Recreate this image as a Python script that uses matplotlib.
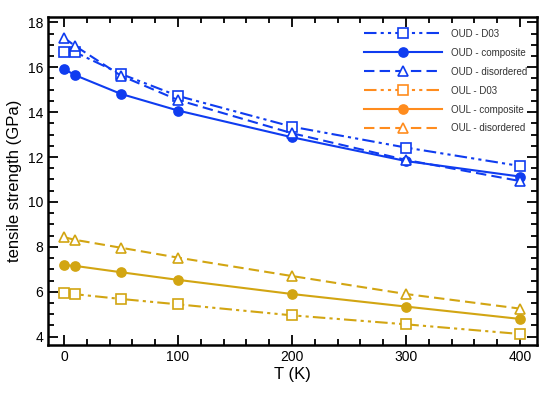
import matplotlib
matplotlib.use("Agg")
import matplotlib.pyplot as plt
from matplotlib.lines import Line2D
from matplotlib.ticker import MultipleLocator

T = [0, 10, 50, 100, 200, 300, 400]
oud_d03 = [16.69, 16.66, 15.70, 14.72, 13.35, 12.42, 11.60]
oud_comp = [15.92, 15.64, 14.81, 14.07, 12.88, 11.82, 11.13]
oud_dis = [17.31, 16.94, 15.62, 14.54, 13.06, 11.87, 10.93]
oul_d03 = [5.93, 5.89, 5.68, 5.44, 4.95, 4.55, 4.12]
oul_comp = [7.19, 7.15, 6.87, 6.53, 5.90, 5.34, 4.79]
oul_dis = [8.43, 8.31, 7.96, 7.52, 6.70, 5.90, 5.25]
labels = ["OUD - D03", "OUD - composite", "OUD - disordered",
          "OUL - D03", "OUL - composite", "OUL - disordered"]

plt.rcParams['font.family'] = ['Liberation Sans', 'DejaVu Sans']

blue = "#0f3cf0"
gold = "#d2a512"
orange = "#ff8c1e"

fig = plt.figure(figsize=(5.5, 3.97), dpi=100)
ax = fig.add_axes([0.0873, 0.131, 0.9887 - 0.0873 - 0.012, 0.958 - 0.131])

dashdot = (0, (6, 2, 1.5, 2, 1.5, 2))
dashed = (0, (5, 2.5))

series = [
    (oud_d03, blue, dashdot, 's', 'none'),
    (oud_comp, blue, '-', 'o', blue),
    (oud_dis, blue, dashed, '^', 'none'),
    (oul_d03, gold, dashdot, 's', 'none'),
    (oul_comp, gold, '-', 'o', gold),
    (oul_dis, gold, dashed, '^', 'none'),
]
for vals, c, ls, m, fc in series:
    ax.plot(T, vals, color=c, linestyle=ls, linewidth=1.5, marker=m,
            markersize=6.5, markerfacecolor=('white' if fc == 'none' else fc),
            markeredgecolor=c, markeredgewidth=1.2)

handles = []
for (vals, c, ls, m, fc), lab in zip(series, labels):
    hc = blue if c == blue else orange
    handles.append(Line2D([], [], color=hc, linestyle=ls, linewidth=1.5, marker=m,
                          markersize=6.5,
                          markerfacecolor=('white' if fc == 'none' else hc),
                          markeredgecolor=hc, markeredgewidth=1.2, label=lab))
leg = ax.legend(handles=handles, loc='upper right', frameon=False, fontsize=7,
                handlelength=8.0, handletextpad=0.95, labelspacing=0.92,
                borderaxespad=0.0, bbox_to_anchor=(0.988, 0.975))
for t in leg.get_texts():
    t.set_color('#333333')

ax.set_xlim(-14, 415)
ax.set_ylim(3.63, 18.25)
ax.xaxis.set_major_locator(MultipleLocator(100))
ax.xaxis.set_minor_locator(MultipleLocator(20))
ax.yaxis.set_major_locator(MultipleLocator(2))
ax.yaxis.set_minor_locator(MultipleLocator(0.5))
ax.tick_params(which='both', direction='in', top=True, right=True, width=1.3,
               labelsize=10, colors='black')
ax.tick_params(which='major', length=7)
ax.tick_params(which='minor', length=4)
for s in ax.spines.values():
    s.set_linewidth(1.8)

ax.set_xlabel("T (K)", fontsize=12, labelpad=2)
ax.set_ylabel("tensile strength (GPa)", fontsize=12, labelpad=4)

fig.savefig("out.png", dpi=100)
